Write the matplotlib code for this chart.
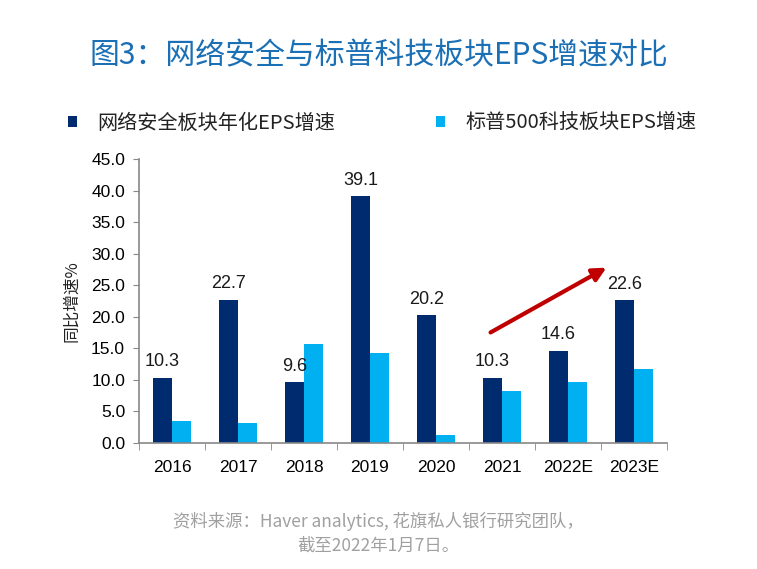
import matplotlib
matplotlib.use("Agg")
import matplotlib.pyplot as plt
import numpy as np

categories = ["2016", "2017", "2018", "2019", "2020", "2021", "2022E", "2023E"]
cyber_eps = [10.3, 22.7, 9.6, 39.1, 20.2, 10.3, 14.6, 22.6]
sp_tech_eps = [3.5, 3.2, 15.7, 14.3, 1.3, 8.3, 9.6, 11.7]
yticks = [0, 5, 10, 15, 20, 25, 30, 35, 40, 45]

CJK = ["Noto Sans CJK SC", "DejaVu Sans"]
NUM = ["Liberation Sans", "DejaVu Sans"]
dark = "#002B6E"
light = "#00B0F0"

fig = plt.figure(figsize=(7.57, 5.69), dpi=100)
ax = fig.add_axes([0.1836, 0.2215, 0.6975, 0.4991])

x = np.arange(len(categories))
w = 0.285
ax.bar(x - w / 2, cyber_eps, w, color=dark, label="网络安全板块年化EPS增速")
ax.bar(x + w / 2, sp_tech_eps, w, color=light, label="标普500科技板块EPS增速")

for xi, v in zip(x, cyber_eps):
    ax.text(xi - w / 2, v + 1.2, f"{v:.1f}", ha="center", va="bottom",
            fontsize=13, family=NUM, color="#1a1a1a")

ax.set_xlim(-0.5, len(categories) - 0.5)
ax.set_ylim(0, 45)
ax.set_yticks(yticks)
ax.set_yticklabels([f"{t:.1f}" for t in yticks], family=NUM, fontsize=12.5)
ax.set_xticks(x)
ax.set_xticklabels(categories, family=NUM, fontsize=12.5)
ax.tick_params(axis="x", length=0, pad=12)
ax.set_xticks(np.arange(-0.5, len(categories) + 0.5, 1), minor=True)
ax.tick_params(axis="x", which="minor", length=5, color="#888888", direction="out")
ax.tick_params(axis="y", length=4, color="#888888", direction="out", pad=6)
for s in ["top", "right"]:
    ax.spines[s].set_visible(False)
for s in ["left", "bottom"]:
    ax.spines[s].set_color("#888888")
    ax.spines[s].set_linewidth(1.2)

ax.set_ylabel("同比增速%", family=CJK, fontsize=12, color="#222222", labelpad=8)

ax.annotate("", xy=(6.62, 28.0), xytext=(4.79, 17.3),
            arrowprops=dict(arrowstyle="-|>,head_length=0.8,head_width=0.4",
                            color="#C00000", lw=3))

fig.text(0.5, 0.902, "图3：网络安全与标普科技板块EPS增速对比", ha="center", va="center",
         family=CJK, fontsize=21.5, color="#1B6FB5")

leg = fig.legend(loc="center", bbox_to_anchor=(0.505, 0.783), ncol=2, frameon=False,
                 prop={"family": CJK, "size": 14.5}, handlelength=0.45, handleheight=0.45,
                 columnspacing=5.0, handletextpad=1.0)
for t in leg.get_texts():
    t.set_color("#222222")

fig.text(0.5, 0.063, "资料来源：Haver analytics, 花旗私人银行研究团队，\n截至2022年1月7日。",
         ha="center", va="center", family=CJK, fontsize=12.5, color="#A0A0A0",
         linespacing=1.45)

fig.savefig("out.png", dpi=100)
